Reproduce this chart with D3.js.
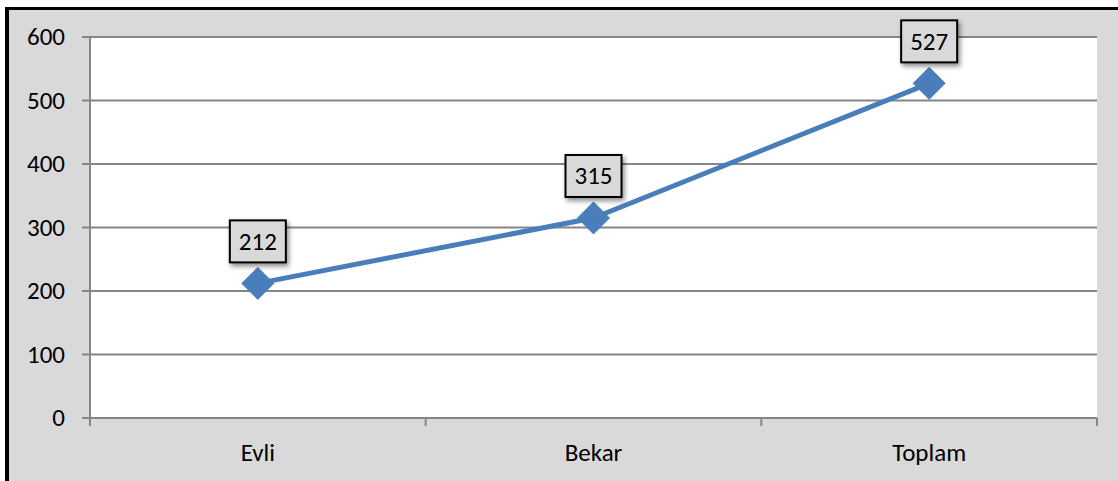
<!DOCTYPE html>
<html>
<head>
<meta charset="utf-8">
<script src="https://cdn.jsdelivr.net/npm/d3@7"></script>
<style>
  html, body { margin: 0; padding: 0; background: #ffffff; }
  svg { display: block; }
  text { font-family: Carlito, Lato, "Liberation Sans", sans-serif; }
</style>
</head>
<body>
<svg id="chart" width="1118" height="481"></svg>
<script>
const categories = ["Evli", "Bekar", "Toplam"];
const values = [212, 315, 527];
const yTicks = [0, 100, 200, 300, 400, 500, 600];

const svg = d3.select("#chart");
const W = 1118, H = 481;
const plot = { left: 90, right: 1097, top: 37, bottom: 418 };
const fs = 25;

// outer chart area
svg.append("rect").attr("x", 5).attr("y", 7).attr("width", W - 5).attr("height", H - 7).attr("fill", "#d9d9d9");
svg.append("rect").attr("x", 5).attr("y", 7).attr("width", 4).attr("height", H - 7).attr("fill", "#000");
svg.append("rect").attr("x", 5).attr("y", 7).attr("width", W - 5).attr("height", 3).attr("fill", "#000");

// plot area
svg.append("rect").attr("x", plot.left).attr("y", plot.top)
  .attr("width", plot.right - plot.left).attr("height", plot.bottom - plot.top).attr("fill", "#fff");

const x = d3.scaleBand().domain(categories).range([plot.left, plot.right]).padding(0);
const y = d3.scaleLinear().domain([0, 600]).range([plot.bottom, plot.top]);

const gridColor = "#868686";

// gridlines
svg.append("g").selectAll("line").data(yTicks).join("line")
  .attr("x1", plot.left - 8).attr("x2", plot.right)
  .attr("y1", d => y(d)).attr("y2", d => y(d))
  .attr("stroke", gridColor).attr("stroke-width", 2);

// y axis line
svg.append("line").attr("x1", plot.left).attr("x2", plot.left)
  .attr("y1", plot.top).attr("y2", plot.bottom)
  .attr("stroke", gridColor).attr("stroke-width", 2);

// y labels
svg.append("g").selectAll("text").data(yTicks).join("text")
  .attr("x", 65).attr("y", d => y(d)).attr("dy", "0.33em")
  .attr("text-anchor", "end").attr("font-size", fs).attr("fill", "#000")
  .text(d => d);

// category ticks
const catEdges = categories.map(c => x(c)).concat([x(categories[categories.length - 1]) + x.bandwidth()]);
svg.append("g").selectAll("line").data(catEdges).join("line")
  .attr("x1", d => d).attr("x2", d => d)
  .attr("y1", plot.bottom).attr("y2", plot.bottom + 8)
  .attr("stroke", gridColor).attr("stroke-width", 2);

// category labels
svg.append("g").selectAll("text").data(categories).join("text")
  .attr("x", d => x(d) + x.bandwidth() / 2).attr("y", 461)
  .attr("text-anchor", "middle").attr("font-size", fs).attr("fill", "#000")
  .text(d => d);

const pts = categories.map((c, i) => ({ c, v: values[i], px: x(c) + x.bandwidth() / 2, py: y(values[i]) }));

// line
svg.append("path").datum(pts)
  .attr("d", d3.line().x(d => d.px).y(d => d.py))
  .attr("fill", "none").attr("stroke", "#4a7ebb").attr("stroke-width", 5)
  .attr("stroke-linejoin", "round");

// markers
const r = 16;
svg.append("g").selectAll("path").data(pts).join("path")
  .attr("d", d => `M${d.px},${d.py - r}L${d.px + r},${d.py}L${d.px},${d.py + r}L${d.px - r},${d.py}Z`)
  .attr("fill", "#4a7ebb").attr("stroke", "#4a7ebb").attr("stroke-width", 1);

// data labels with shadow
const defs = svg.append("defs");
const f = defs.append("filter").attr("id", "shadow").attr("x", "-30%").attr("y", "-30%").attr("width", "160%").attr("height", "160%");
f.append("feDropShadow").attr("dx", 2).attr("dy", 3).attr("stdDeviation", 2.5).attr("flood-color", "#000").attr("flood-opacity", 0.45);

const bw = 56, bh = 42, gap = 21;
const lab = svg.append("g").selectAll("g").data(pts).join("g");
lab.append("rect")
  .attr("x", d => d.px - bw / 2).attr("y", d => d.py - gap - bh)
  .attr("width", bw).attr("height", bh)
  .attr("fill", "#d9d9d9").attr("stroke", "#000").attr("stroke-width", 2)
  .attr("filter", "url(#shadow)");
lab.append("text")
  .attr("x", d => d.px).attr("y", d => d.py - gap - bh / 2).attr("dy", "0.33em")
  .attr("text-anchor", "middle").attr("font-size", fs).attr("fill", "#000")
  .text(d => d.v);
</script>
</body>
</html>
